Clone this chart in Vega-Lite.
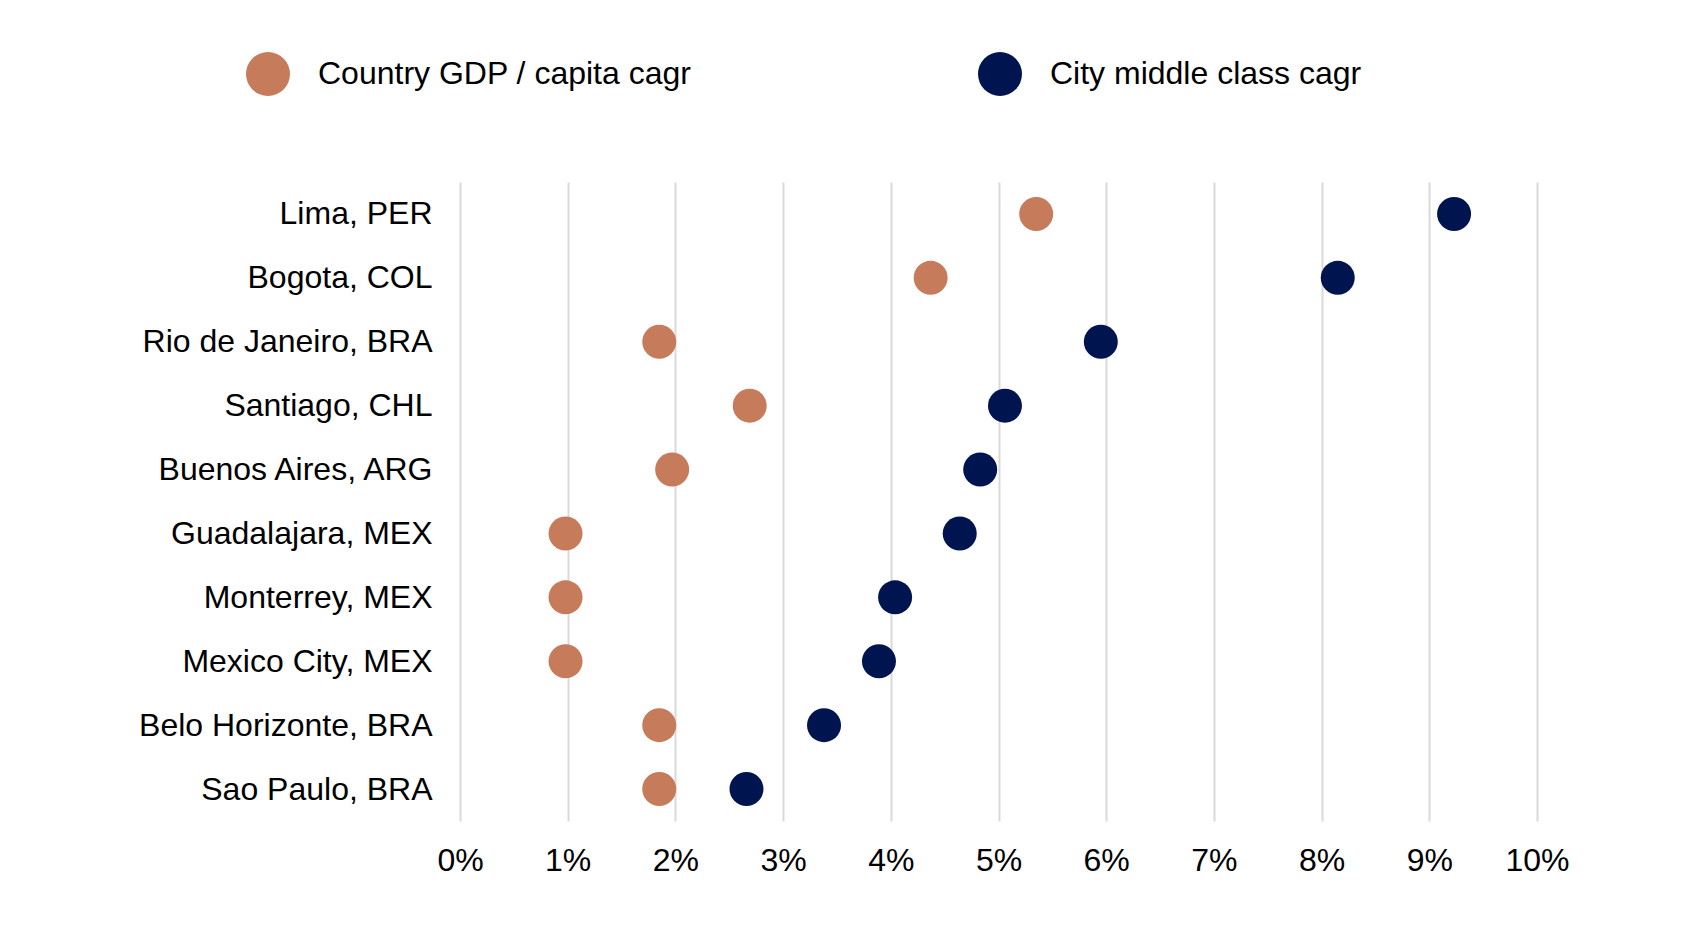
{
  "$schema": "https://vega.github.io/schema/vega-lite/v6.json",
  "width": 1077,
  "height": 639,
  "autosize": {"type": "none"},
  "padding": {"left": 460, "top": 182, "right": 145, "bottom": 115},
  "background": "#ffffff",
  "config": {
    "font": "Liberation Sans",
    "view": {"stroke": null}
  },
  "data": {
    "values": [
      {"city": "Lima, PER", "series": "Country GDP / capita cagr", "value": 0.0535},
      {"city": "Bogota, COL", "series": "Country GDP / capita cagr", "value": 0.0437},
      {"city": "Rio de Janeiro, BRA", "series": "Country GDP / capita cagr", "value": 0.0185},
      {"city": "Santiago, CHL", "series": "Country GDP / capita cagr", "value": 0.0269},
      {"city": "Buenos Aires, ARG", "series": "Country GDP / capita cagr", "value": 0.0197},
      {"city": "Guadalajara, MEX", "series": "Country GDP / capita cagr", "value": 0.0098},
      {"city": "Monterrey, MEX", "series": "Country GDP / capita cagr", "value": 0.0098},
      {"city": "Mexico City, MEX", "series": "Country GDP / capita cagr", "value": 0.0098},
      {"city": "Belo Horizonte, BRA", "series": "Country GDP / capita cagr", "value": 0.0185},
      {"city": "Sao Paulo, BRA", "series": "Country GDP / capita cagr", "value": 0.0185},
      {"city": "Lima, PER", "series": "City middle class cagr", "value": 0.0923},
      {"city": "Bogota, COL", "series": "City middle class cagr", "value": 0.0815},
      {"city": "Rio de Janeiro, BRA", "series": "City middle class cagr", "value": 0.0595},
      {"city": "Santiago, CHL", "series": "City middle class cagr", "value": 0.0506},
      {"city": "Buenos Aires, ARG", "series": "City middle class cagr", "value": 0.0483},
      {"city": "Guadalajara, MEX", "series": "City middle class cagr", "value": 0.0464},
      {"city": "Monterrey, MEX", "series": "City middle class cagr", "value": 0.0404},
      {"city": "Mexico City, MEX", "series": "City middle class cagr", "value": 0.0389},
      {"city": "Belo Horizonte, BRA", "series": "City middle class cagr", "value": 0.0338},
      {"city": "Sao Paulo, BRA", "series": "City middle class cagr", "value": 0.0266}
    ]
  },
  "mark": {"type": "point", "filled": true, "shape": "circle", "size": 1156, "opacity": 1},
  "encoding": {
    "y": {
      "field": "city",
      "type": "nominal",
      "sort": null,
      "scale": {"paddingInner": 0, "paddingOuter": 0},
      "axis": {
        "title": null,
        "domain": false,
        "ticks": false,
        "grid": false,
        "labelFontSize": 32,
        "labelColor": "#000000",
        "labelPadding": 28,
        "labelLimit": 0
      }
    },
    "x": {
      "field": "value",
      "type": "quantitative",
      "scale": {"domain": [0, 0.1], "nice": false, "zero": true},
      "axis": {
        "title": null,
        "values": [0, 0.01, 0.02, 0.03, 0.04, 0.05, 0.06, 0.07, 0.08, 0.09, 0.1],
        "format": ".0%",
        "domain": false,
        "ticks": false,
        "grid": true,
        "gridColor": "#D9D9D9",
        "gridWidth": 2,
        "labelFontSize": 32,
        "labelColor": "#000000",
        "labelPadding": 24,
        "labelFlush": false,
        "labelOverlap": false
      }
    },
    "color": {
      "field": "series",
      "type": "nominal",
      "scale": {
        "domain": ["Country GDP / capita cagr", "City middle class cagr"],
        "range": ["#C67B5A", "#00154F"]
      },
      "legend": {
        "title": null,
        "orient": "none",
        "direction": "horizontal",
        "legendX": -214,
        "legendY": -130,
        "padding": 0,
        "symbolType": "circle",
        "symbolSize": 1936,
        "symbolStrokeWidth": 0,
        "symbolOpacity": 1,
        "labelFontSize": 32,
        "labelColor": "#000000",
        "labelOffset": 28,
        "labelLimit": 0,
        "columnPadding": 286
      }
    }
  }
}
